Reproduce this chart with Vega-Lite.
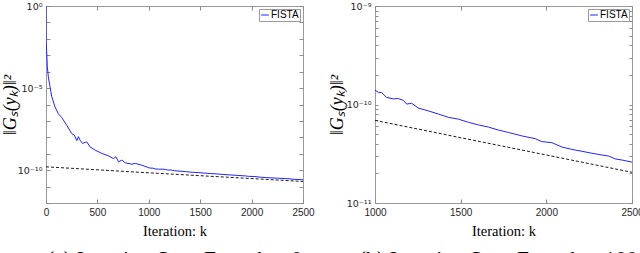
{
  "$schema": "https://vega.github.io/schema/vega-lite/v6.json",
  "autosize": {"type": "pad"},
  "padding": 0,
  "background": "white",
  "spacing": 72,
  "bounds": "flush",
  "config": {
    "view": {"stroke": "#9a9a9a", "strokeWidth": 1},
    "axis": {"grid": false, "domain": false, "labelFlush": false, "labelOverlap": false, "tickColor": "#8a8a8a", "tickSize": -4, "labelFont": "Liberation Sans", "labelFontSize": 10, "labelColor": "#262626", "titleFont": "Liberation Serif", "titleFontWeight": "normal", "titleColor": "#000000", "titleFontSize": 14.5},
    "axisLeft": {"labelFont": "DejaVu Sans", "labelFontSize": 9.5},
    "legend": {"orient": "top-right", "offset": 3, "padding": 1, "strokeColor": "#9a9a9a", "fillColor": "white", "symbolType": "stroke", "symbolSize": 60, "symbolStrokeWidth": 1, "labelFont": "Liberation Sans", "labelFontSize": 10, "labelColor": "#000000", "labelOffset": 1, "title": null},
    "title": {"font": "Liberation Serif", "fontSize": 22, "fontWeight": "normal", "color": "#000000"}
  },
  "datasets": {
    "fista": [
      {"k": 0, "v": 1, "s": "FISTA"},
      {"k": 1, "v": 1e-2, "s": "FISTA"},
      {"k": 6, "v": 2e-3, "s": "FISTA"},
      {"k": 13, "v": 2e-4, "s": "FISTA"},
      {"k": 23, "v": 4.7e-5, "s": "FISTA"},
      {"k": 39, "v": 1.26e-5, "s": "FISTA"},
      {"k": 55, "v": 3.2e-6, "s": "FISTA"},
      {"k": 88, "v": 7e-7, "s": "FISTA"},
      {"k": 120, "v": 2.75e-7, "s": "FISTA"},
      {"k": 153, "v": 1.6e-7, "s": "FISTA"},
      {"k": 202, "v": 5.4e-8, "s": "FISTA"},
      {"k": 250, "v": 1.7e-8, "s": "FISTA"},
      {"k": 276, "v": 1.35e-8, "s": "FISTA"},
      {"k": 300, "v": 6.3e-9, "s": "FISTA"},
      {"k": 315, "v": 1.1e-8, "s": "FISTA"},
      {"k": 332, "v": 6.6e-9, "s": "FISTA"},
      {"k": 355, "v": 4.2e-9, "s": "FISTA"},
      {"k": 380, "v": 5e-9, "s": "FISTA"},
      {"k": 397, "v": 5.2e-9, "s": "FISTA"},
      {"k": 429, "v": 2.6e-9, "s": "FISTA"},
      {"k": 478, "v": 1.66e-9, "s": "FISTA"},
      {"k": 543, "v": 1.05e-9, "s": "FISTA"},
      {"k": 608, "v": 7.4e-10, "s": "FISTA"},
      {"k": 657, "v": 5.1e-10, "s": "FISTA"},
      {"k": 680, "v": 6.5e-10, "s": "FISTA"},
      {"k": 706, "v": 3.2e-10, "s": "FISTA"},
      {"k": 738, "v": 4.1e-10, "s": "FISTA"},
      {"k": 771, "v": 2.8e-10, "s": "FISTA"},
      {"k": 836, "v": 2.3e-10, "s": "FISTA"},
      {"k": 868, "v": 2.6e-10, "s": "FISTA"},
      {"k": 933, "v": 2.0e-10, "s": "FISTA"},
      {"k": 1000, "v": 1.40e-10, "s": "FISTA"},
      {"k": 1019, "v": 1.33e-10, "s": "FISTA"},
      {"k": 1039, "v": 1.32e-10, "s": "FISTA"},
      {"k": 1068, "v": 1.18e-10, "s": "FISTA"},
      {"k": 1107, "v": 1.14e-10, "s": "FISTA"},
      {"k": 1136, "v": 1.15e-10, "s": "FISTA"},
      {"k": 1166, "v": 1.10e-10, "s": "FISTA"},
      {"k": 1185, "v": 1.01e-10, "s": "FISTA"},
      {"k": 1214, "v": 1.03e-10, "s": "FISTA"},
      {"k": 1253, "v": 9.2e-11, "s": "FISTA"},
      {"k": 1312, "v": 8.6e-11, "s": "FISTA"},
      {"k": 1370, "v": 8.0e-11, "s": "FISTA"},
      {"k": 1429, "v": 7.4e-11, "s": "FISTA"},
      {"k": 1487, "v": 7.1e-11, "s": "FISTA"},
      {"k": 1545, "v": 6.6e-11, "s": "FISTA"},
      {"k": 1604, "v": 6.2e-11, "s": "FISTA"},
      {"k": 1662, "v": 5.9e-11, "s": "FISTA"},
      {"k": 1721, "v": 5.5e-11, "s": "FISTA"},
      {"k": 1779, "v": 5.2e-11, "s": "FISTA"},
      {"k": 1857, "v": 4.8e-11, "s": "FISTA"},
      {"k": 1935, "v": 4.5e-11, "s": "FISTA"},
      {"k": 1974, "v": 4.2e-11, "s": "FISTA"},
      {"k": 2032, "v": 4.1e-11, "s": "FISTA"},
      {"k": 2091, "v": 3.7e-11, "s": "FISTA"},
      {"k": 2149, "v": 3.5e-11, "s": "FISTA"},
      {"k": 2208, "v": 3.35e-11, "s": "FISTA"},
      {"k": 2266, "v": 3.2e-11, "s": "FISTA"},
      {"k": 2325, "v": 3.07e-11, "s": "FISTA"},
      {"k": 2364, "v": 3.0e-11, "s": "FISTA"},
      {"k": 2403, "v": 2.8e-11, "s": "FISTA"},
      {"k": 2442, "v": 2.73e-11, "s": "FISTA"},
      {"k": 2500, "v": 2.6e-11, "s": "FISTA"}
    ],
    "ref": [
      {"k": 0, "v": 1.6e-10},
      {"k": 1000, "v": 6.9e-11},
      {"k": 2500, "v": 2.05e-11}
    ]
  },
  "hconcat": [
    {
      "width": 257,
      "height": 197,
      "title": {"text": "(a) Iteration Start From k = 0", "orient": "bottom", "offset": 11, "anchor": "middle"},
      "layer": [
        {
          "data": {"name": "fista"},
          "mark": {"type": "line", "color": "#2323ff", "strokeWidth": 1, "clip": true},
          "encoding": {
            "x": {"field": "k", "type": "quantitative", "scale": {"domain": [0, 2500], "nice": false, "zero": false},
                  "axis": {"orient": "bottom", "values": [0, 500, 1000, 1500, 2000, 2500], "format": "d", "labelPadding": 8, "title": "Iteration: k", "titleX": 128.5, "titleY": 32, "titleBaseline": "alphabetic", "titleAnchor": "middle"}},
            "y": {"field": "v", "type": "quantitative", "scale": {"type": "log", "domain": [1e-12, 1], "nice": false},
                  "axis": {"orient": "left", "values": [1e-12, 1e-11, 1e-10, 1e-9, 1e-8, 1e-7, 1e-6, 1e-5, 1e-4, 1e-3, 1e-2, 1e-1, 1], "labelPadding": 8, "labelExpr": "round(log(datum.value)/LN10) == 0 ? '10⁰' : round(log(datum.value)/LN10) == -5 ? '10⁻⁵' : round(log(datum.value)/LN10) == -10 ? '10⁻¹⁰' : ''", "title": "‖Gₛ(yₖ)‖²", "titleFontSize": 18, "titleFontStyle": "italic", "titleX": -36, "titleY": 98.5, "titleAngle": -90, "titleBaseline": "middle", "titleAlign": "center"}},
            "color": {"field": "s", "type": "nominal", "scale": {"range": ["#2323ff"]}, "legend": {}}
          }
        },
        {
          "data": {"name": "ref"},
          "mark": {"type": "line", "color": "#1a1a1a", "strokeWidth": 1, "strokeDash": [3, 2], "clip": true},
          "encoding": {
            "x": {"field": "k", "type": "quantitative", "scale": {"domain": [0, 2500], "nice": false, "zero": false}, "axis": {"orient": "top", "values": [0, 500, 1000, 1500, 2000, 2500], "labels": false, "title": null}},
            "y": {"field": "v", "type": "quantitative", "scale": {"type": "log", "domain": [1e-12, 1], "nice": false}, "axis": {"orient": "right", "values": [1e-12, 1e-11, 1e-10, 1e-9, 1e-8, 1e-7, 1e-6, 1e-5, 1e-4, 1e-3, 1e-2, 1e-1, 1], "labels": false, "title": null}}
          }
        }
      ],
      "resolve": {"axis": {"x": "independent", "y": "independent"}}
    },
    {
      "width": 257,
      "height": 197,
      "title": {"text": "(b) Iteration Start From k = 1000", "orient": "bottom", "offset": 11, "anchor": "middle"},
      "layer": [
        {
          "data": {"name": "fista"},
          "transform": [{"filter": "datum.k >= 1000"}],
          "mark": {"type": "line", "color": "#2323ff", "strokeWidth": 1, "clip": true},
          "encoding": {
            "x": {"field": "k", "type": "quantitative", "scale": {"domain": [1000, 2500], "nice": false, "zero": false},
                  "axis": {"orient": "bottom", "values": [1000, 1500, 2000, 2500], "format": "d", "labelPadding": 8, "title": "Iteration: k", "titleX": 128.5, "titleY": 32, "titleBaseline": "alphabetic", "titleAnchor": "middle"}},
            "y": {"field": "v", "type": "quantitative", "scale": {"type": "log", "domain": [1e-11, 1e-9], "nice": false},
                  "axis": {"orient": "left", "values": [1e-11, 2e-11, 3e-11, 4e-11, 5e-11, 6e-11, 7e-11, 8e-11, 9e-11, 1e-10, 2e-10, 3e-10, 4e-10, 5e-10, 6e-10, 7e-10, 8e-10, 9e-10, 1e-9], "tickSize": -3, "labelPadding": 7, "labelExpr": "abs(log(datum.value)/LN10 + 9) < 0.01 ? '10⁻⁹' : abs(log(datum.value)/LN10 + 10) < 0.01 ? '10⁻¹⁰' : abs(log(datum.value)/LN10 + 11) < 0.01 ? '10⁻¹¹' : ''", "title": "‖Gₛ(yₖ)‖²", "titleFontSize": 18, "titleFontStyle": "italic", "titleX": -38, "titleY": 98.5, "titleAngle": -90, "titleBaseline": "middle", "titleAlign": "center"}},
            "color": {"field": "s", "type": "nominal", "scale": {"range": ["#2323ff"]}, "legend": {}}
          }
        },
        {
          "data": {"name": "ref"},
          "transform": [{"filter": "datum.k >= 1000"}],
          "mark": {"type": "line", "color": "#1a1a1a", "strokeWidth": 1, "strokeDash": [3, 2], "clip": true},
          "encoding": {
            "x": {"field": "k", "type": "quantitative", "scale": {"domain": [1000, 2500], "nice": false, "zero": false}, "axis": {"orient": "top", "values": [1000, 1500, 2000, 2500], "labels": false, "title": null}},
            "y": {"field": "v", "type": "quantitative", "scale": {"type": "log", "domain": [1e-11, 1e-9], "nice": false}, "axis": {"orient": "right", "values": [1e-11, 2e-11, 3e-11, 4e-11, 5e-11, 6e-11, 7e-11, 8e-11, 9e-11, 1e-10, 2e-10, 3e-10, 4e-10, 5e-10, 6e-10, 7e-10, 8e-10, 9e-10, 1e-9], "tickSize": -3, "labels": false, "title": null}}
          }
        }
      ],
      "resolve": {"axis": {"x": "independent", "y": "independent"}}
    }
  ],
  "resolve": {"scale": {"color": "independent"}, "legend": {"color": "independent"}}
}
